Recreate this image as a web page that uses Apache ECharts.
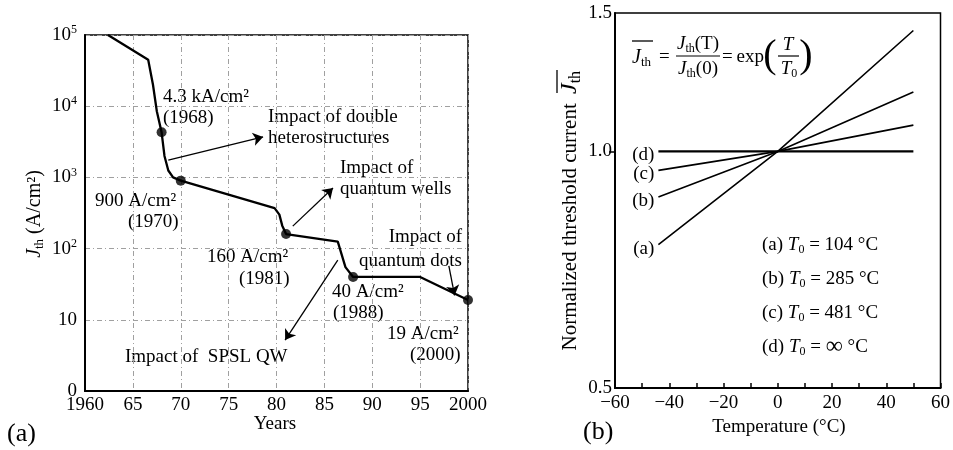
<!DOCTYPE html>
<html>
<head>
<meta charset="utf-8">
<script src="https://cdn.jsdelivr.net/npm/echarts@6/dist/echarts.min.js"></script>
<style>
  html, body { margin: 0; padding: 0; background: #fff; }
  #chart { width: 953px; height: 450px; }
</style>
</head>
<body>
<div id="chart"></div>
<script>
// ---- Panel (a): threshold current density of semiconductor lasers over time ----
const curveYears = [1962.4, 1966.6, 1967.1, 1967.5, 1968, 1968.3, 1968.7, 1969.2, 1970,
                    1979.8, 1980.3, 1980.6, 1981, 1986.4, 1987.2, 1988, 1995, 2000];
const curveJth   = [100000, 45000, 20000, 8500, 4300, 2000, 1250, 1000, 900,
                    370, 300, 210, 160, 125, 55, 40, 40, 19];

// Milestone devices (year, A/cm^2)
const milestoneYears = [1968, 1970, 1981, 1988, 2000];
const milestoneJth   = [4300, 900, 160, 40, 19];

// Arrows pointing from the curve to the "Impact of ..." notes, in data units
const arrowFrom = [[1968.7, 1750], [1981.7, 207], [1986.4, 69], [1998.0, 57]];
const arrowTo   = [[1978.6, 3700], [1985.9, 710], [1980.9, 5.2], [1998.6, 22]];

// ---- Panel (b): normalized threshold current vs temperature ----
const curveNames = ['(a)', '(b)', '(c)', '(d)'];
const t0Values   = ['104', '285', '481', '\u221e'];
const temps      = [-44, 0, 50];
const normA = [0.761, 1.0, 1.425];
const normB = [0.875, 1.0, 1.19];
const normC = [0.946, 1.0, 1.08];
const normD = [1.0, 1.0, 1.0];
const normSeries = [normA, normB, normC, normD];

const FONT = '"Liberation Serif", "Times New Roman", Times, serif';
const FS = 19;
const INK = '#000';

const chart = echarts.init(document.getElementById('chart'), null, { renderer: 'canvas' });

// rich-text styles for graphic text (zrender style props)
function richSet(fs) {
  return {
    n:   { fontFamily: FONT, fontSize: fs, fill: INK, lineHeight: fs + 3 },
    i:   { fontFamily: FONT, fontSize: fs, fontStyle: 'italic', fill: INK, lineHeight: fs + 3 },
    big: { fontFamily: FONT, fontSize: fs + 5, fill: INK, lineHeight: fs + 3 },
    sub: { fontFamily: FONT, fontSize: Math.round(fs * 0.65), fill: INK, lineHeight: Math.round(fs * 0.65), verticalAlign: 'bottom' }
  };
}

function txt(x, y, text, opt) {
  opt = opt || {};
  const fs = opt.size || FS;
  return {
    type: 'text', x: x, y: y, silent: true,
    rotation: opt.rotation || 0,
    style: {
      text: text,
      rich: richSet(fs),
      font: fs + 'px ' + FONT,
      fontFamily: FONT,
      fontSize: fs,
      fill: INK,
      align: opt.align || 'left',
      textAlign: opt.align || 'left',
      verticalAlign: 'middle',
      textVerticalAlign: 'middle'
    }
  };
}
function seg(x1, y1, x2, y2, w) {
  return { type: 'line', silent: true, shape: { x1: x1, y1: y1, x2: x2, y2: y2 },
           style: { stroke: INK, lineWidth: w || 1.3 } };
}

const graphics = [
  // panel tags
  txt(7, 434, '(a)', { size: 26 }),
  txt(583, 432, '(b)', { size: 26 }),
  // axis titles, panel (a)
  txt(275, 424, 'Years', { align: 'center' }),
  txt(35, 214, '{i|J}{sub|th}{n| (A/cm\u00b2)}', { align: 'center', rotation: Math.PI / 2, size: 20 }),
  // axis titles, panel (b)
  txt(779, 427, 'Temperature (\u00b0C)', { align: 'center' }),
  txt(570, 98, '{n|Normalized threshold current }', { align: 'right', rotation: Math.PI / 2, size: 21 }),
  txt(570, 94, '{i|J}{sub|th}', { align: 'left', rotation: Math.PI / 2, size: 24 }),
  seg(557, 93, 557, 70, 1.3),

  // notes, panel (a)
  txt(163, 97, '4.3 kA/cm\u00b2'),
  txt(163, 118, '(1968)'),
  txt(268, 117, 'Impact of double'),
  txt(268, 138, 'heterostructures'),
  txt(95, 201, '900 A/cm\u00b2'),
  txt(128, 222, '(1970)'),
  txt(340, 168, 'Impact of'),
  txt(340, 189, 'quantum wells'),
  txt(207, 257, '160 A/cm\u00b2'),
  txt(239, 279, '(1981)'),
  txt(125, 357, 'Impact of  SPSL QW'),
  txt(462, 237, 'Impact of', { align: 'right' }),
  txt(462, 261, 'quantum dots', { align: 'right' }),
  txt(332, 292, '40 A/cm\u00b2'),
  txt(333, 313, '(1988)'),
  txt(387, 334, '19 A/cm\u00b2'),
  txt(410, 355, '(2000)'),

  // defining relation, panel (b)
  txt(632, 58, '{i|J}{sub|th}', { size: 20 }),
  seg(632, 41, 653, 41, 1.3),
  txt(659, 57, '='),
  txt(698, 44, '{i|J}{sub|th}{n|(T)}', { align: 'center' }),
  seg(676, 56, 720, 56, 1.2),
  txt(698, 69, '{i|J}{sub|th}{n|(0)}', { align: 'center' }),
  txt(722, 57, '=\u2009exp'),
  txt(770, 56, '(', { size: 40, align: 'center' }),
  txt(806, 56, ')', { size: 40, align: 'center' }),
  txt(788, 45, '{i|T}', { align: 'center' }),
  seg(778, 56, 799, 56, 1.2),
  txt(789, 69, '{i|T}{sub|0}', { align: 'center' })
];

// key for the four characteristic temperatures
curveNames.forEach(function (name, k) {
  const val = t0Values[k] === '\u221e' ? '{big|\u221e}{n| \u00b0C}' : '{n|' + t0Values[k] + ' \u00b0C}';
  graphics.push(txt(762, 245 + k * 34, '{n|' + name + ' }{i|T}{sub|0}{n| = }' + val));
});

const axisRich = {
  b: { fontFamily: FONT, fontSize: FS, color: INK, lineHeight: 22 },
  s: { fontFamily: FONT, fontSize: 12, color: INK, lineHeight: 12, verticalAlign: 'top' }
};

const option = {
  animation: false,
  backgroundColor: '#fff',
  textStyle: { fontFamily: FONT },
  grid: [
    { left: 85, top: 35, width: 383, height: 356, show: true, borderColor: INK, borderWidth: 1.5 },
    { left: 615, top: 13, width: 328, height: 375, show: true, borderColor: INK, borderWidth: 1.5 }
  ],
  xAxis: [
    {
      gridIndex: 0, type: 'value', min: 1960, max: 2000, interval: 5,
      axisLine: { onZero: false, lineStyle: { color: INK, width: 2 } },
      axisTick: { show: false },
      axisLabel: {
        fontFamily: FONT, fontSize: FS, color: INK, margin: 5,
        formatter: function (v) { return (v === 1960 || v === 2000) ? String(v) : String(v % 100); }
      },
      splitLine: { show: true, lineStyle: { color: '#a0a0a0', width: 1, type: [5, 3, 1, 3] } }
    },
    {
      gridIndex: 1, type: 'value', min: -60, max: 60, interval: 20,
      axisLine: { onZero: false, lineStyle: { color: INK, width: 2 } },
      axisTick: { show: true, inside: true, length: 5, lineStyle: { color: INK, width: 1.5 } },
      minorTick: { show: true, splitNumber: 2, length: 5, lineStyle: { color: INK, width: 1.5 } },
      axisLabel: {
        fontFamily: FONT, fontSize: FS, color: INK, margin: 6,
        formatter: function (v) { return v < 0 ? '\u2212' + (-v) : String(v); }
      },
      splitLine: { show: false }
    }
  ],
  yAxis: [
    {
      gridIndex: 0, type: 'log', logBase: 10, min: 1, max: 100000,
      axisLine: { show: true, onZero: false, lineStyle: { color: INK, width: 2 } },
      axisTick: { show: false },
      axisLabel: {
        margin: 8, rich: axisRich,
        formatter: function (v) {
          const e = Math.round(Math.log10(v));
          if (e === 0) return '{b|0}';
          if (e === 1) return '{b|10}';
          return '{b|10}{s|' + e + '}';
        }
      },
      splitLine: { show: true, lineStyle: { color: '#a0a0a0', width: 1, type: [5, 3, 1, 3] } }
    },
    {
      gridIndex: 1, type: 'log', logBase: 10, min: 0.5, max: 1.5,
      axisLine: { show: true, onZero: false, lineStyle: { color: INK, width: 2 } },
      axisTick: { show: true, customValues: [1.0], length: 6, lineStyle: { color: INK, width: 1.5 } },
      axisLabel: {
        customValues: [0.5, 1.0, 1.5],
        fontFamily: FONT, fontSize: FS, color: INK, margin: 3,
        formatter: function (v) { return Number(v).toFixed(1); }
      },
      splitLine: { show: false }
    }
  ],
  series: [
    {
      type: 'line', xAxisIndex: 0, yAxisIndex: 0, symbol: 'none', z: 3,
      data: curveYears.map(function (y, i) { return [y, curveJth[i]]; }),
      lineStyle: { color: INK, width: 2.3 },
      markLine: {
        silent: true, animation: false,
        symbol: ['none', 'arrow'], symbolSize: 10,
        label: { show: false },
        lineStyle: { color: INK, width: 1.3, type: 'solid' },
        itemStyle: { color: INK },
        data: arrowFrom.map(function (p, i) { return [{ coord: p }, { coord: arrowTo[i] }]; })
      }
    },
    {
      type: 'scatter', xAxisIndex: 0, yAxisIndex: 0, symbol: 'circle', symbolSize: 10, z: 4,
      itemStyle: { color: INK },
      data: milestoneYears.map(function (y, i) { return [y, milestoneJth[i]]; })
    }
  ].concat(normSeries.map(function (vals, k) {
    return {
      type: 'line', xAxisIndex: 1, yAxisIndex: 1, symbol: 'none', z: 3,
      lineStyle: { color: INK, width: k === 3 ? 2.2 : 1.6 },
      data: temps.map(function (t, i) { return [t, vals[i]]; })
    };
  })).concat([{
    // curve tags at the left ends of the lines
    type: 'scatter', xAxisIndex: 1, yAxisIndex: 1, symbolSize: 0.1, z: 4,
    itemStyle: { color: INK },
    label: {
      show: true, position: 'left', distance: 4, offset: [0, 4],
      fontFamily: FONT, fontSize: FS, color: INK, opacity: 1,
      formatter: function (p) { return curveNames[p.dataIndex]; }
    },
    data: normSeries.map(function (vals) { return [temps[0], vals[0]]; })
  }]),
  graphic: graphics
};

chart.setOption(option);
</script>
</body>
</html>
